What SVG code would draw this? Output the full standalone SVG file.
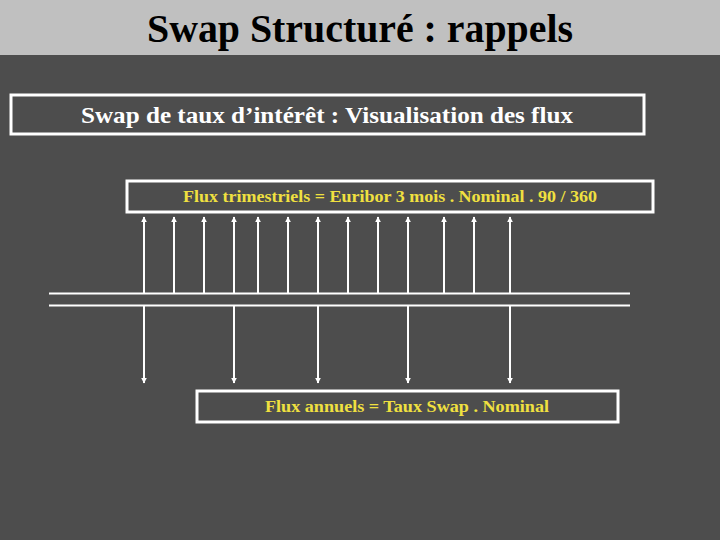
<svg xmlns="http://www.w3.org/2000/svg" width="720" height="540" viewBox="0 0 720 540">
<defs><marker id="ah" viewBox="0 0 10 10" refX="9" refY="5" markerWidth="6" markerHeight="7" markerUnits="userSpaceOnUse" orient="auto"><path d="M0,0L10,5L0,10z" fill="#fff"/></marker></defs>
<style>.bx{fill:none;stroke:#fff;stroke-width:3}.t{font-family:"Liberation Serif",serif;font-weight:bold}.a{stroke:#fff;stroke-width:2;marker-end:url(#ah)}</style>
<rect width="720" height="540" fill="#4d4d4d"/>
<rect width="720" height="55" fill="#c0c0c0"/>
<text class="t" x="360" y="42" font-size="40" text-anchor="middle" fill="#000" textLength="426" lengthAdjust="spacingAndGlyphs">Swap Structuré : rappels</text>
<g id="head"><rect class="bx" x="11" y="95" width="633" height="39"/><text class="t" x="81" y="123" font-size="24" fill="#fff" textLength="492" lengthAdjust="spacingAndGlyphs">Swap de taux d’intérêt : Visualisation des flux</text></g>
<g id="trim"><rect class="bx" x="127" y="181" width="526" height="31"/><text class="t" x="183" y="202" font-size="17" fill="#f0e040" textLength="414" lengthAdjust="spacingAndGlyphs">Flux trimestriels = Euribor 3 mois . Nominal . 90 / 360</text></g>
<g id="ann"><rect class="bx" x="197" y="391" width="421" height="31"/><text class="t" x="265" y="412" font-size="17" fill="#f0e040" textLength="284" lengthAdjust="spacingAndGlyphs">Flux annuels = Taux Swap . Nominal</text></g>
<g id="connectors">
<line x1="49" y1="293.5" x2="630" y2="293.5" stroke="#fff" stroke-width="2"/>
<line x1="49" y1="305.5" x2="630" y2="305.5" stroke="#fff" stroke-width="2"/>
<g class="up">
<line class="a" x1="144" y1="293" x2="144" y2="217"/><line class="a" x1="174" y1="293" x2="174" y2="217"/><line class="a" x1="204" y1="293" x2="204" y2="217"/><line class="a" x1="234" y1="293" x2="234" y2="217"/><line class="a" x1="258" y1="293" x2="258" y2="217"/><line class="a" x1="288" y1="293" x2="288" y2="217"/><line class="a" x1="318" y1="293" x2="318" y2="217"/><line class="a" x1="348" y1="293" x2="348" y2="217"/><line class="a" x1="378" y1="293" x2="378" y2="217"/><line class="a" x1="408" y1="293" x2="408" y2="217"/><line class="a" x1="444" y1="293" x2="444" y2="217"/><line class="a" x1="474" y1="293" x2="474" y2="217"/><line class="a" x1="510" y1="293" x2="510" y2="217"/>
</g>
<g class="down">
<line class="a" x1="144" y1="306" x2="144" y2="383"/><line class="a" x1="234" y1="306" x2="234" y2="383"/><line class="a" x1="318" y1="306" x2="318" y2="383"/><line class="a" x1="408" y1="306" x2="408" y2="383"/><line class="a" x1="510" y1="306" x2="510" y2="383"/>
</g>
</g>
</svg>
